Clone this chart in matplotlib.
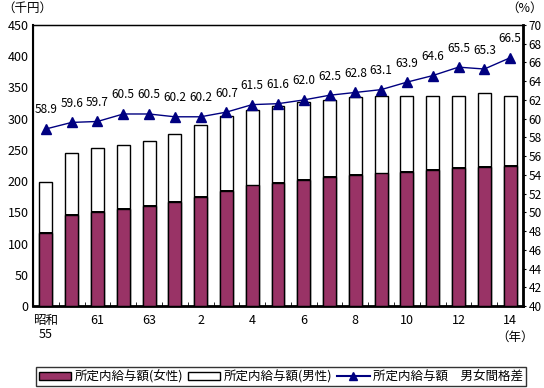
import matplotlib
matplotlib.use("Agg")
import matplotlib.pyplot as plt
from matplotlib.lines import Line2D
from matplotlib.patches import Patch
import numpy as np

plt.rcParams["font.family"] = ["Noto Sans CJK JP", "DejaVu Sans"]

# 昭和55, 60-63, 平成元-14
years = ["昭和\n55", "60", "61", "62", "63", "元", "2", "3", "4", "5", "6",
         "7", "8", "9", "10", "11", "12", "13", "14"]
male = [198.1, 244.6, 253.0, 257.8, 264.3, 275.5, 289.9, 304.3, 313.9, 320.3,
        326.2, 330.4, 334.7, 336.3, 336.3, 336.3, 336.3, 341.1, 336.3]
female = [117.0, 145.8, 151.0, 156.0, 159.9, 165.9, 174.5, 184.7, 193.0, 197.3,
          202.2, 206.5, 210.2, 212.2, 214.9, 217.3, 220.3, 222.7, 223.6]
ratio = [58.9, 59.6, 59.7, 60.5, 60.5, 60.2, 60.2, 60.7, 61.5, 61.6,
         62.0, 62.5, 62.8, 63.1, 63.9, 64.6, 65.5, 65.3, 66.5]

MAROON = "#993366"
NAVY = "#000080"

fig = plt.figure(figsize=(5.44, 3.88), dpi=100)
ax = fig.add_axes([33 / 544, 1 - 306 / 388, 490 / 544, 281 / 388])
x = np.arange(len(years))

ax.bar(x, male, width=0.5, color="white", edgecolor="black", linewidth=1.0, zorder=2)
ax.bar(x, female, width=0.5, color=MAROON, edgecolor="black", linewidth=1.0, zorder=3)
# thick top edge on the female bars
ax.bar(x, [1.5] * len(x), bottom=female, width=0.5, color="black", zorder=4)

ax.set_xlim(-0.5, len(x) - 0.5)
ax.set_ylim(0, 450)
ax.set_yticks(range(0, 451, 50))
ax.tick_params(axis="y", length=0, labelsize=9, pad=3)
ax.set_xticks(x[::2])
ax.set_xticklabels(years[::2], fontsize=9, linespacing=1.1)
ax.set_xticks(x[:-1] + 0.5, minor=True)
ax.tick_params(axis="x", which="major", length=0, pad=6)
ax.tick_params(axis="x", which="minor", direction="in", length=3)
for s in ax.spines.values():
    s.set_linewidth(1.0)
ax.spines["bottom"].set_linewidth(2.0)
ax.spines["left"].set_linewidth(1.5)

ax2 = ax.twinx()
ax2.set_ylim(40, 70)
ax2.set_yticks(range(40, 71, 2))
ax2.tick_params(axis="y", length=2.5, labelsize=8.5, pad=1.5)
ax2.spines["right"].set_linewidth(2.0)
ax2.plot(x, ratio, color=NAVY, linewidth=1.0, marker="^", markersize=7, zorder=5)
for xi, r in zip(x, ratio):
    ax2.annotate(f"{r:.1f}", (xi, r), xytext=(0, 9), textcoords="offset points",
                 ha="center", va="bottom", fontsize=8.5)

fig.text(2 / 544, 1 - 8 / 388, "（千円）", fontsize=9, va="center", ha="left")
fig.text(543 / 544, 1 - 8 / 388, "（%）", fontsize=9, va="center", ha="right")
fig.text(534 / 544, 1 - 337 / 388, "（年）", fontsize=9, va="center", ha="right")

handles = [
    Patch(facecolor=MAROON, edgecolor="black", label="所定内給与額(女性)"),
    Patch(facecolor="white", edgecolor="black", label="所定内給与額(男性)"),
    Line2D([], [], color=NAVY, marker="^", markersize=6, label="所定内給与額　男女間格差"),
]
leg = fig.legend(handles=handles, loc="center", ncol=3,
                 bbox_to_anchor=(30 / 544, 1 - 387 / 388, 502 / 544, 21 / 388),
                 mode="expand", fontsize=9, frameon=True, fancybox=False,
                 edgecolor="black", borderpad=0.2, handlelength=2.6,
                 handleheight=0.6, handletextpad=0.3, columnspacing=1.0)
leg.get_frame().set_linewidth(1.0)

fig.savefig("out.png", dpi=100)
